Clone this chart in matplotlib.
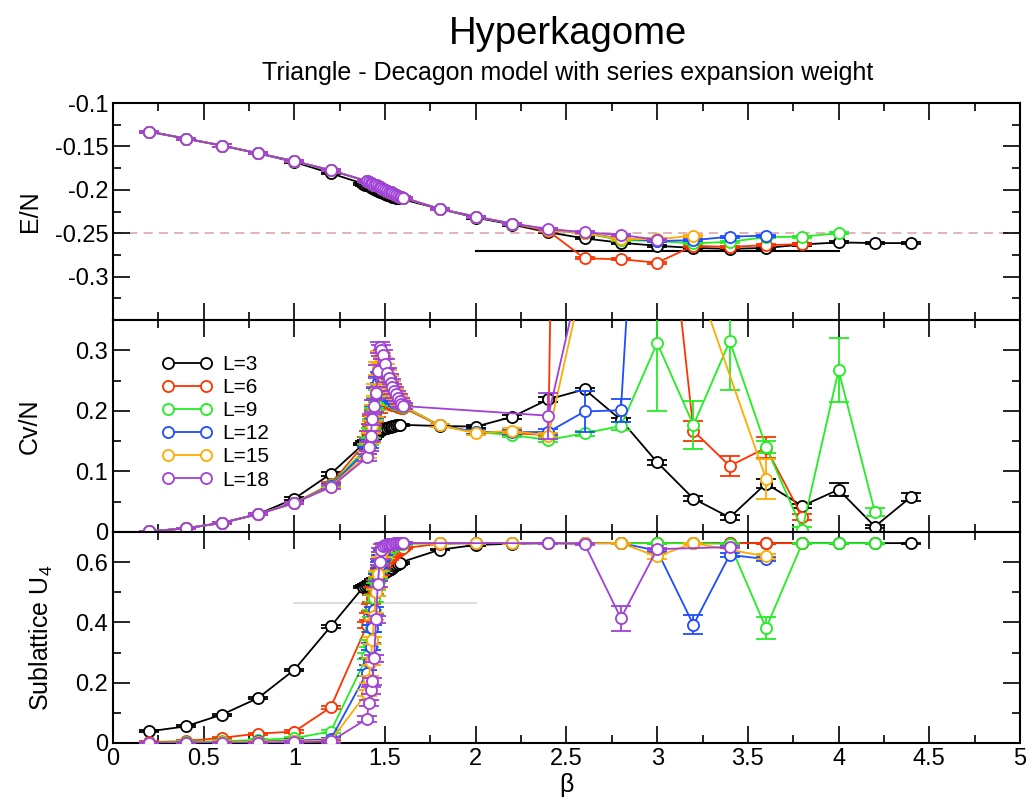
import matplotlib
matplotlib.use("Agg")
import matplotlib.pyplot as plt
from matplotlib.ticker import MultipleLocator, FuncFormatter
from matplotlib.lines import Line2D

plt.rcParams['font.family'] = ['Liberation Sans', 'DejaVu Sans']
plt.rcParams['mathtext.fontset'] = 'custom'
plt.rcParams['mathtext.rm'] = 'Liberation Sans'
plt.rcParams['mathtext.it'] = 'Liberation Sans:italic'
plt.rcParams['mathtext.default'] = 'regular'

# ---------------- data ----------------
labels = ["L=3", "L=6", "L=9", "L=12", "L=15", "L=18"]
colors = ["black", "#ff3300", "#22ee22", "#1f4cff", "#ffaa00", "#a040d8"]

beta_low = [0.2, 0.4, 0.6, 0.8, 1.0, 1.2]
beta_dense = [1.40, 1.41, 1.42, 1.43, 1.44, 1.45, 1.46, 1.47, 1.48, 1.49, 1.50,
              1.51, 1.52, 1.53, 1.54, 1.55, 1.56, 1.57, 1.58, 1.59, 1.60]
beta_dense3 = [1.38, 1.39, 1.40, 1.41, 1.42, 1.43, 1.44, 1.45, 1.46, 1.47, 1.48,
               1.49, 1.50, 1.51, 1.52, 1.53, 1.54, 1.55, 1.56, 1.57, 1.58]
beta_mid = [1.8, 2.0, 2.2]

# high-beta grids per L
beta_hi_L3 = [2.4, 2.6, 2.8, 3.0, 3.2, 3.4, 3.6, 3.8, 4.0, 4.2, 4.4]
beta_hi_L6 = [2.4, 2.6, 2.8, 3.0, 3.2, 3.4, 3.6, 3.8]
beta_hi_L12 = [2.4, 2.6, 2.8, 3.0, 3.2, 3.4, 3.6]

# ---- E/N ----
E_low_L3 = [-0.133, -0.141, -0.149, -0.158, -0.168, -0.181]
E_low = [-0.133, -0.141, -0.149, -0.158, -0.167, -0.1775]
E_dense_L3 = [-0.193, -0.194, -0.195, -0.196, -0.197, -0.198, -0.199, -0.200, -0.201, -0.202, -0.203,
              -0.204, -0.205, -0.206, -0.206, -0.207, -0.208, -0.208, -0.209, -0.210, -0.210]
E_dense = [-0.190, -0.191, -0.192, -0.193, -0.194, -0.195, -0.196, -0.197, -0.198, -0.199, -0.200,
           -0.201, -0.202, -0.203, -0.204, -0.205, -0.206, -0.207, -0.208, -0.2085, -0.209]
E_mid_L3 = [-0.222, -0.232, -0.240]
E_mid = [-0.222, -0.231, -0.239]
E_hi_L3 = [-0.249, -0.256, -0.261, -0.2645, -0.267, -0.268, -0.267, -0.263, -0.2606, -0.2614, -0.2614]
E_hi_L6 = [-0.2475, -0.279, -0.280, -0.284, -0.2645, -0.2658, -0.2638, -0.2626]
E_hi_L9 = [-0.246, -0.250, -0.258, -0.259, -0.2618, -0.2599, -0.2545, -0.254, -0.250]
E_hi_L12 = [-0.246, -0.250, -0.256, -0.259, -0.258, -0.254, -0.2528]
E_hi_L15 = [-0.246, -0.250, -0.2567, -0.257, -0.2528]
E_hi_L18 = [-0.245, -0.249, -0.252, -0.2575]
E_beta_hi_L9 = [2.4, 2.6, 2.8, 3.0, 3.2, 3.4, 3.6, 3.8, 4.0]
E_beta_hi_L15 = [2.4, 2.6, 2.8, 3.0, 3.2]
E_beta_hi_L18 = [2.4, 2.6, 2.8, 3.0]

# ---- Cv/N ----
Cv_low = {
    "L=3": [0.001, 0.006, 0.015, 0.0295, 0.055, 0.096],
    "L=6": [0.001, 0.006, 0.015, 0.0295, 0.048, 0.079],
    "L=9": [0.001, 0.006, 0.015, 0.0295, 0.048, 0.077],
    "L=12": [0.001, 0.006, 0.015, 0.0295, 0.048, 0.076],
    "L=15": [0.001, 0.006, 0.015, 0.0295, 0.048, 0.075],
    "L=18": [0.001, 0.006, 0.015, 0.0295, 0.048, 0.074],
}
Cv_dense_L3 = [0.145, 0.148, 0.150, 0.152, 0.154, 0.156, 0.159, 0.162, 0.165, 0.167, 0.169,
               0.170, 0.171, 0.172, 0.173, 0.174, 0.175, 0.1755, 0.176, 0.1765, 0.177]
Cv_dense_L6 = [0.150, 0.160, 0.170, 0.182, 0.192, 0.200, 0.207, 0.212, 0.215, 0.215, 0.214,
               0.213, 0.212, 0.211, 0.210, 0.209, 0.208, 0.207, 0.206, 0.205, 0.205]
Cv_dense_L9 = [0.140, 0.150, 0.163, 0.178, 0.195, 0.212, 0.225, 0.233, 0.236, 0.234, 0.231,
               0.228, 0.224, 0.221, 0.218, 0.215, 0.213, 0.211, 0.209, 0.208, 0.207]
Cv_dense_L12 = [0.135, 0.145, 0.158, 0.175, 0.198, 0.228, 0.248, 0.255, 0.252, 0.247, 0.241,
                0.236, 0.231, 0.226, 0.222, 0.219, 0.216, 0.213, 0.211, 0.209, 0.208]
Cv_dense_L15 = [0.128, 0.140, 0.155, 0.175, 0.200, 0.235, 0.270, 0.290, 0.287, 0.279, 0.270,
                0.260, 0.251, 0.243, 0.236, 0.230, 0.224, 0.219, 0.214, 0.211, 0.208]
Cv_dense_L18 = [0.123, 0.141, 0.159, 0.186, 0.208, 0.230, 0.265, 0.305, 0.300, 0.293, 0.2775,
                0.263, 0.254, 0.246, 0.239, 0.233, 0.227, 0.222, 0.217, 0.212, 0.208]
Cv_err_dense = [0.006, 0.007, 0.008, 0.009, 0.010, 0.010, 0.010, 0.009, 0.009, 0.008, 0.008,
                0.007, 0.007, 0.006, 0.006, 0.006, 0.005, 0.005, 0.005, 0.005, 0.005]

Cv_beta_hi_L3 = [1.8, 2.0, 2.2, 2.4, 2.6, 2.8, 3.0, 3.2, 3.4, 3.6, 3.8, 4.0, 4.2, 4.4]
Cv_hi_L3 = [0.175, 0.174, 0.190, 0.219, 0.2355, 0.185, 0.115, 0.055, 0.024, 0.080, 0.043, 0.070, 0.009, 0.058]
Cv_hi_err_L3 = [0.002, 0.002, 0.003, 0.004, 0.003, 0.004, 0.004, 0.004, 0.004, 0.008, 0.004, 0.011, 0.003, 0.007]
Cv_beta_hi_L6 = [1.8, 2.0, 2.2, 2.4, 2.6, 2.8, 3.0, 3.2, 3.4, 3.6, 3.8]
Cv_hi_L6 = [0.176, 0.165, 0.163, 0.160, 4.0, 3.0, 0.72, 0.167, 0.109, 0.139, 0.025]
Cv_hi_err_L6 = [0.003, 0.003, 0.003, 0.004, 0.1, 0.1, 0.05, 0.016, 0.017, 0.017, 0.005]
Cv_beta_hi_L9 = [1.8, 2.0, 2.2, 2.4, 2.6, 2.8, 3.0, 3.2, 3.4, 3.6, 3.8, 4.0, 4.2]
Cv_hi_L9 = [0.176, 0.165, 0.160, 0.152, 0.163, 0.175, 0.312, 0.1765, 0.315, 0.141, 0.004, 0.267, 0.033]
Cv_hi_err_L9 = [0.003, 0.003, 0.003, 0.004, 0.004, 0.006, 0.113, 0.039, 0.080, 0.010, 0.004, 0.053, 0.0066]
Cv_beta_hi_L12 = [1.8, 2.0, 2.2, 2.4, 2.6, 2.8, 3.0, 3.2, 3.4, 3.6]
Cv_hi_L12 = [0.176, 0.165, 0.165, 0.165, 0.199, 0.201, 1.2, 1.0, 0.9, 0.8]
Cv_hi_err_L12 = [0.003, 0.003, 0.003, 0.005, 0.034, 0.0186, 0.1, 0.1, 0.1, 0.1]
Cv_beta_hi_L15 = [1.8, 2.0, 2.2, 2.4, 2.6, 2.8, 3.0, 3.2, 3.6]
Cv_hi_L15 = [0.176, 0.163, 0.167, 0.159, 0.43, 0.6, 0.8, 0.43, 0.088]
Cv_hi_err_L15 = [0.003, 0.003, 0.004, 0.004, 0.05, 0.05, 0.05, 0.05, 0.033]
Cv_beta_hi_L18 = [2.4, 2.6, 2.8, 3.0, 3.4]
Cv_hi_L18 = [0.192, 0.455, 0.6, 0.8, 0.7]
Cv_hi_err_L18 = [0.038, 0.05, 0.05, 0.05, 0.05]

# ---- Sublattice U4 ----
U_low = {
    "L=3": [0.0385, 0.055, 0.094, 0.149, 0.243, 0.3865],
    "L=6": [0.003, 0.006, 0.017, 0.031, 0.038, 0.118],
    "L=9": [0.001, 0.003, 0.006, 0.010, 0.016, 0.038],
    "L=12": [0.0, 0.001, 0.003, 0.005, 0.008, 0.012],
    "L=15": [0.0, 0.001, 0.003, 0.004, 0.005, 0.008],
    "L=18": [0.0, 0.0, 0.001, 0.001, 0.002, 0.005],
}
U_dense_L3 = [0.517, 0.521, 0.525, 0.528, 0.532, 0.536, 0.540, 0.544, 0.549, 0.553, 0.557,
              0.562, 0.566, 0.570, 0.574, 0.578, 0.582, 0.586, 0.590, 0.594, 0.598]
U_dense_L6 = [0.390, 0.420, 0.450, 0.480, 0.505, 0.530, 0.550, 0.567, 0.580, 0.592, 0.600,
              0.607, 0.613, 0.618, 0.623, 0.628, 0.632, 0.636, 0.640, 0.643, 0.646]
U_dense_L9 = [0.287, 0.330, 0.380, 0.430, 0.480, 0.520, 0.555, 0.580, 0.600, 0.615, 0.627,
              0.636, 0.643, 0.648, 0.652, 0.655, 0.657, 0.659, 0.660, 0.661, 0.661]
U_dense_L12 = [0.233, 0.270, 0.320, 0.380, 0.440, 0.500, 0.550, 0.590, 0.615, 0.632, 0.643,
               0.650, 0.654, 0.657, 0.659, 0.660, 0.661, 0.662, 0.662, 0.663, 0.663]
U_dense_L15 = [0.167, 0.210, 0.270, 0.340, 0.420, 0.500, 0.560, 0.600, 0.625, 0.640, 0.650,
               0.655, 0.658, 0.660, 0.661, 0.661, 0.662, 0.662, 0.663, 0.663, 0.663]
U_dense_L18 = [0.080, 0.132, 0.175, 0.204, 0.281, 0.410, 0.528, 0.600, 0.640, 0.652, 0.657,
               0.659, 0.660, 0.661, 0.661, 0.662, 0.662, 0.662, 0.663, 0.663, 0.663]
U_err_dense = [0.010, 0.011, 0.012, 0.012, 0.012, 0.012, 0.011, 0.010, 0.008, 0.007, 0.006,
               0.005, 0.005, 0.004, 0.004, 0.004, 0.003, 0.003, 0.003, 0.003, 0.003]

U_hi_L3 = [0.641, 0.657, 0.661, 0.663, 0.663, 0.663, 0.663, 0.663, 0.663, 0.663, 0.663, 0.663, 0.663, 0.663]
U_hi_L6 = [0.661, 0.663, 0.663, 0.663, 0.663, 0.663, 0.663, 0.663, 0.663, 0.663, 0.663]
U_hi_L9 = [0.662, 0.663, 0.663, 0.663, 0.663, 0.663, 0.663, 0.663, 0.661, 0.381, 0.663, 0.663, 0.663]
U_hi_err_L9 = [0.002, 0.002, 0.002, 0.002, 0.002, 0.002, 0.002, 0.002, 0.003, 0.036, 0.002, 0.002, 0.002]
U_hi_L12 = [0.663, 0.663, 0.663, 0.663, 0.663, 0.663, 0.638, 0.392, 0.624, 0.610]
U_hi_err_L12 = [0.002, 0.002, 0.002, 0.002, 0.002, 0.002, 0.006, 0.031, 0.006, 0.006]
U_hi_L15 = [0.663, 0.663, 0.663, 0.663, 0.662, 0.663, 0.619, 0.663, 0.619]
U_hi_err_L15 = [0.002, 0.002, 0.002, 0.002, 0.002, 0.002, 0.007, 0.002, 0.008]
U_hi_L18 = [0.663, 0.660, 0.414, 0.643, 0.650]
U_hi_err_L18 = [0.002, 0.002, 0.041, 0.004, 0.004]

# ---------------- figure ----------------
fig, (ax1, ax2, ax3) = plt.subplots(3, 1, sharex=True, figsize=(10.31, 8.06), dpi=100,
                                    gridspec_kw={'height_ratios': [217, 212, 211]})
fig.subplots_adjust(left=0.1096, right=0.9893, top=0.8722, bottom=0.0782, hspace=0)


def draw(ax, x, y, e, c, z):
    ax.errorbar(x, y, yerr=e, color=c, ecolor=c, lw=1.3, elinewidth=1.3, capsize=7, capthick=1.3,
                marker='o', ms=8, mfc='white', mec=c, mew=1.3, zorder=z)


# top panel
ax1.axhline(-0.25, color='#d8a0a0', lw=1.1, dashes=(6, 4), zorder=1)
ax1.plot([2.0, 4.0], [-0.27, -0.27], color='black', lw=1.5, zorder=1)
top_sets = [
    (beta_low + beta_dense3 + beta_mid + beta_hi_L3, E_low_L3 + E_dense_L3 + E_mid_L3 + E_hi_L3),
    (beta_low + beta_dense + beta_mid + beta_hi_L6, E_low + E_dense + E_mid + E_hi_L6),
    (beta_low + beta_dense + beta_mid + E_beta_hi_L9, E_low + E_dense + E_mid + E_hi_L9),
    (beta_low + beta_dense + beta_mid + beta_hi_L12, E_low + E_dense + E_mid + E_hi_L12),
    (beta_low + beta_dense + beta_mid + E_beta_hi_L15, E_low + E_dense + E_mid + E_hi_L15),
    (beta_low + beta_dense + beta_mid + E_beta_hi_L18, E_low + E_dense + E_mid + E_hi_L18),
]
for i, (x, y) in enumerate(top_sets):
    draw(ax1, x, y, 0.0012, colors[i], 3 + i)

# middle panel
low_err = [0.001, 0.001, 0.002, 0.002, 0.002, 0.003]
mid_sets = [
    (beta_low + beta_dense3 + Cv_beta_hi_L3, Cv_low["L=3"] + Cv_dense_L3 + Cv_hi_L3,
     low_err + [0.002] * 21 + Cv_hi_err_L3),
    (beta_low + beta_dense + Cv_beta_hi_L6, Cv_low["L=6"] + Cv_dense_L6 + Cv_hi_L6,
     low_err + Cv_err_dense + Cv_hi_err_L6),
    (beta_low + beta_dense + Cv_beta_hi_L9, Cv_low["L=9"] + Cv_dense_L9 + Cv_hi_L9,
     low_err + Cv_err_dense + Cv_hi_err_L9),
    (beta_low + beta_dense + Cv_beta_hi_L12, Cv_low["L=12"] + Cv_dense_L12 + Cv_hi_L12,
     low_err + Cv_err_dense + Cv_hi_err_L12),
    (beta_low + beta_dense + Cv_beta_hi_L15, Cv_low["L=15"] + Cv_dense_L15 + Cv_hi_L15,
     low_err + Cv_err_dense + Cv_hi_err_L15),
    (beta_low + beta_dense + Cv_beta_hi_L18, Cv_low["L=18"] + Cv_dense_L18 + Cv_hi_L18,
     low_err + Cv_err_dense + Cv_hi_err_L18),
]
for i, (x, y, e) in enumerate(mid_sets):
    draw(ax2, x, y, e, colors[i], 3 + i)

# bottom panel
ax3.plot([1.0, 2.0], [0.466, 0.466], color='#dddddd', lw=1.5, zorder=1)
u_low_err = [0.003, 0.003, 0.003, 0.003, 0.004, 0.004]
bot_sets = [
    (beta_low + beta_dense3 + Cv_beta_hi_L3, U_low["L=3"] + U_dense_L3 + U_hi_L3,
     u_low_err + [0.003] * 21 + [0.002] * 14),
    (beta_low + beta_dense + Cv_beta_hi_L6, U_low["L=6"] + U_dense_L6 + U_hi_L6,
     u_low_err + U_err_dense + [0.002] * 11),
    (beta_low + beta_dense + Cv_beta_hi_L9, U_low["L=9"] + U_dense_L9 + U_hi_L9,
     u_low_err + U_err_dense + U_hi_err_L9),
    (beta_low + beta_dense + Cv_beta_hi_L12, U_low["L=12"] + U_dense_L12 + U_hi_L12,
     u_low_err + U_err_dense + U_hi_err_L12),
    (beta_low + beta_dense + Cv_beta_hi_L15, U_low["L=15"] + U_dense_L15 + U_hi_L15,
     u_low_err + U_err_dense + U_hi_err_L15),
    (beta_low + beta_dense + Cv_beta_hi_L18, U_low["L=18"] + U_dense_L18 + U_hi_L18,
     u_low_err + U_err_dense + U_hi_err_L18),
]
for i, (x, y, e) in enumerate(bot_sets):
    draw(ax3, x, y, e, colors[i], 3 + i)

# axes cosmetics
fmt = FuncFormatter(lambda v, p: "%g" % round(v, 6))
for ax in (ax1, ax2, ax3):
    ax.set_xlim(0, 5)
    ax.xaxis.set_major_locator(MultipleLocator(0.5))
    ax.xaxis.set_minor_locator(MultipleLocator(0.25))
    ax.tick_params(which='both', direction='in', top=True, right=True, width=1.2, labelsize=17)
    ax.tick_params(which='major', length=12)
    ax.tick_params(which='minor', length=6)
    ax.yaxis.set_major_formatter(fmt)
    for s in ax.spines.values():
        s.set_linewidth(1.5)
ax3.xaxis.set_major_formatter(fmt)

ax1.set_ylim(-0.35, -0.1)
ax1.set_yticks([-0.3, -0.25, -0.2, -0.15, -0.1])
ax1.yaxis.set_minor_locator(MultipleLocator(0.025))

ax2.set_ylim(0, 0.35)
ax2.set_yticks([0, 0.1, 0.2, 0.3])
ax2.yaxis.set_minor_locator(MultipleLocator(0.05))

ax3.set_ylim(0, 0.7)
ax3.set_yticks([0, 0.2, 0.4, 0.6])
ax3.yaxis.set_minor_locator(MultipleLocator(0.1))

ax3.set_xlabel("β", fontsize=18, labelpad=2)

fig.text(0.029, 1 - 211.5 / 806, "E/N", rotation=90, ha='center', va='center', fontsize=18)
fig.text(0.029, 1 - 426 / 806, "Cv/N", rotation=90, ha='center', va='center', fontsize=18)
fig.text(0.040, 1 - 637.5 / 806, "Sublattice U$_4$", rotation=90, ha='center', va='center',
         fontsize=18)

fig.text(0.551, 0.958, "Hyperkagome", ha='center', va='center', fontsize=27.5)
fig.text(0.551, 0.909, "Triangle - Decagon model with series expansion weight", ha='center',
         va='center', fontsize=18)

handles = [Line2D([0], [0], color=c, lw=1.3, marker='o', ms=8, mfc='white', mec=c, mew=1.3)
           for c in colors]
ax2.legend(handles, labels, loc='upper left', bbox_to_anchor=(0.045, 0.875), frameon=False,
           numpoints=2, handlelength=2.4, handletextpad=0.5, labelspacing=0.2, fontsize=15,
           borderaxespad=0)

fig.savefig("out.png", dpi=100)
